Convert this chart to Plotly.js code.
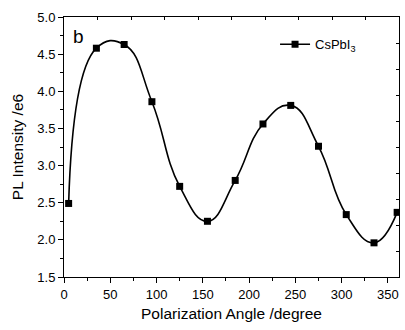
<!DOCTYPE html>
<html>
<head>
<meta charset="utf-8">
<script src="https://cdn.plot.ly/plotly-3.0.1.min.js"></script>
<style>html,body{margin:0;padding:0;background:#fff;}#chart{width:405px;height:330px;}</style>
</head>
<body>
<div id="chart"></div>
<script>
const angles = [5, 35, 65, 95, 125, 155, 185, 215, 245, 275, 305, 335, 360];
const intensity = [2.49, 4.58, 4.63, 3.86, 2.72, 2.25, 2.80, 3.56, 3.81, 3.26, 2.34, 1.96, 2.37];
const seriesName = 'CsPbI<sub>3</sub>';
const xTitle = 'Polarization Angle /degree';
const yTitle = 'PL Intensity /e6';
const panelLabel = 'b';

const FONT = 'Arial, "Liberation Sans", sans-serif';

const traces = [
  {
    x: angles, y: intensity, name: seriesName, type: 'scatter', mode: 'lines+markers',
    line: {color: '#000', width: 1.6, shape: 'spline', smoothing: 1.3},
    marker: {symbol: 'square', size: 7, color: '#000'},
    hoverinfo: 'skip'
  },
  {
    x: angles, y: intensity, xaxis: 'x2', yaxis: 'y2', type: 'scatter', mode: 'markers',
    marker: {opacity: 0}, showlegend: false, hoverinfo: 'skip'
  }
];

const xr = [0, 362];
const yr = [1.5, 5.0];

const layout = {
  width: 405, height: 330,
  margin: {l: 64, r: 6, t: 17, b: 53},
  paper_bgcolor: '#fff', plot_bgcolor: '#fff',
  font: {family: FONT, color: '#000', size: 13},
  showlegend: true,
  legend: {x: 0.63, y: 0.895, xanchor: 'left', yanchor: 'middle', bgcolor: 'rgba(0,0,0,0)',
           font: {size: 13, family: FONT}, itemwidth: 30},
  xaxis: {
    range: xr, dtick: 50, tick0: 0, showgrid: false, zeroline: false,
    showline: true, linecolor: '#000', linewidth: 1,
    ticks: 'outside', ticklen: 5, tickwidth: 1, tickcolor: '#000',
    minor: {dtick: 25, ticks: 'outside', ticklen: 3, tickcolor: '#000'},
    tickfont: {size: 13, family: FONT},
    title: {text: xTitle, font: {size: 15.5, family: FONT}, standoff: 7}
  },
  yaxis: {
    range: yr, dtick: 0.5, tick0: 1.5, tickformat: '.1f', showgrid: false, zeroline: false,
    showline: true, linecolor: '#000', linewidth: 1,
    ticks: 'outside', ticklen: 5, tickwidth: 1, tickcolor: '#000',
    minor: {dtick: 0.25, ticks: 'outside', ticklen: 3, tickcolor: '#000'},
    tickfont: {size: 13, family: FONT},
    title: {text: yTitle, font: {size: 15.5, family: FONT}, standoff: 9}
  },
  xaxis2: {
    overlaying: 'x', side: 'top', anchor: 'y2', range: xr, dtick: 36.2, tick0: 0,
    showgrid: false, zeroline: false, showline: true, linecolor: '#000', linewidth: 1,
    ticks: 'inside', ticklen: 3, tickcolor: '#000', showticklabels: false
  },
  yaxis2: {
    overlaying: 'y', side: 'right', anchor: 'x2', range: yr, dtick: 0.35, tick0: 1.5,
    showgrid: false, zeroline: false, showline: true, linecolor: '#000', linewidth: 1,
    ticks: 'inside', ticklen: 3, tickcolor: '#000', showticklabels: false
  },
  annotations: [{
    text: panelLabel, xref: 'paper', yref: 'paper', x: 0.02, y: 0.975,
    xanchor: 'left', yanchor: 'top', showarrow: false,
    font: {size: 19, family: FONT, color: '#000'}
  }]
};

Plotly.newPlot('chart', traces, layout, {displayModeBar: false, staticPlot: true});
</script>
</body>
</html>
